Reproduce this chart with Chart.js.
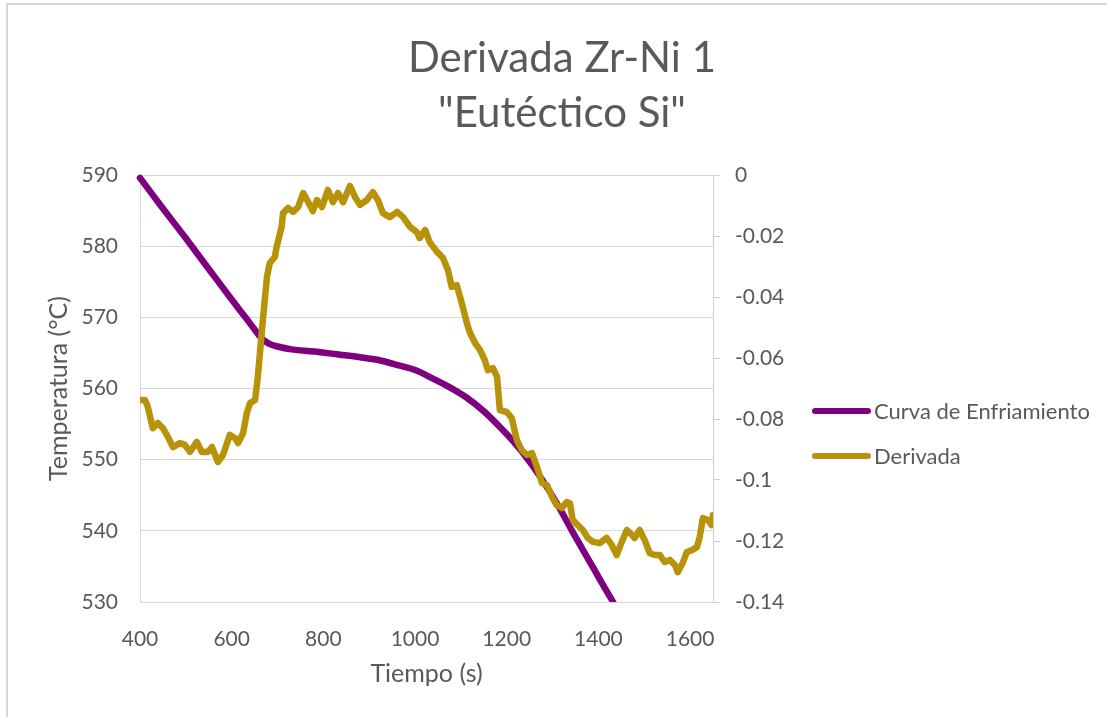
<!DOCTYPE html>
<html>
<head>
<meta charset="utf-8">
<title>Derivada Zr-Ni 1</title>
<script src="https://cdn.jsdelivr.net/npm/chart.js@4.4.1/dist/chart.umd.min.js"></script>
<style>
  html, body { margin: 0; padding: 0; background: #ffffff; }
  #wrap { position: relative; width: 1107px; height: 717px; overflow: hidden; background: #ffffff; }
  #frame { position: absolute; left: 6px; top: 3px; width: 1300px; height: 900px;
           border: 2px solid #d9d9d9; box-sizing: border-box; pointer-events: none; }
  canvas { position: absolute; left: 0; top: 0; }
</style>
</head>
<body>
<div id="wrap">
  <canvas id="grafico" width="1107" height="717"></canvas>
  <div id="frame"></div>
</div>
<script>
// Curva de enfriamiento: tiempo (s) y temperatura (°C)
const tiempoCurva = [400, 450, 500, 550, 600, 630, 650, 662, 672, 685, 700, 730, 780, 830, 880, 920,
  967, 1000, 1039, 1075, 1113, 1150, 1185, 1210, 1236, 1273, 1309, 1345, 1388, 1410, 1432, 1455];
const temperatura = [589.6, 585.3, 581.1, 576.8, 572.5, 570.0, 568.3, 567.3, 566.7, 566.2, 565.9, 565.5,
  565.2, 564.8, 564.4, 564.0, 563.2, 562.6, 561.4, 560.2, 558.7, 556.8, 554.6, 552.9, 550.9, 547.6,
  543.9, 539.7, 534.9, 532.4, 530.0, 527.2];

// Derivada de la temperatura respecto al tiempo
const tiempoDerivada = [400, 411, 417, 428, 439, 450, 461, 472, 487, 498, 509, 524, 535, 548, 557, 570,
  581, 596, 607, 614, 625, 633, 640, 651, 657, 668, 677, 683, 694, 698, 709, 712, 723, 734, 745, 756,
  767, 777, 786, 797, 810, 821, 832, 843, 858, 869, 880, 895, 908, 919, 930, 945, 961, 974, 989, 1004,
  1010, 1022, 1032, 1048, 1061, 1072, 1080, 1091, 1102, 1113, 1120, 1131, 1142, 1152, 1159, 1170, 1179,
  1185, 1200, 1211, 1222, 1233, 1244, 1255, 1266, 1277, 1288, 1299, 1309, 1320, 1331, 1338, 1344, 1355,
  1366, 1377, 1388, 1403, 1418, 1429, 1440, 1451, 1462, 1473, 1479, 1490, 1501, 1512, 1523, 1534, 1545,
  1556, 1567, 1573, 1584, 1593, 1604, 1615, 1621, 1628, 1639, 1647, 1650];
const derivada = [-0.0738, -0.0738, -0.0760, -0.0830, -0.0813, -0.0830, -0.0859, -0.0892, -0.0879,
  -0.0885, -0.0908, -0.0875, -0.0908, -0.0908, -0.0892, -0.0941, -0.0918, -0.0852, -0.0862, -0.0879,
  -0.0846, -0.0780, -0.0748, -0.0738, -0.0662, -0.0476, -0.0334, -0.0289, -0.0269, -0.0236, -0.0170,
  -0.0125, -0.0108, -0.0121, -0.0105, -0.0059, -0.0089, -0.0118, -0.0082, -0.0105, -0.0049, -0.0089,
  -0.0059, -0.0089, -0.0036, -0.0072, -0.0098, -0.0082, -0.0056, -0.0082, -0.0125, -0.0138, -0.0121,
  -0.0138, -0.0170, -0.0187, -0.0207, -0.0180, -0.0220, -0.0252, -0.0272, -0.0312, -0.0367, -0.0361,
  -0.0420, -0.0485, -0.0518, -0.0551, -0.0574, -0.0607, -0.0640, -0.0633, -0.0662, -0.0771, -0.0777,
  -0.0797, -0.0869, -0.0902, -0.0918, -0.0912, -0.0957, -0.1010, -0.1017, -0.1056, -0.1082, -0.1092,
  -0.1072, -0.1076, -0.1131, -0.1148, -0.1164, -0.1190, -0.1203, -0.1207, -0.1190, -0.1213, -0.1246,
  -0.1203, -0.1164, -0.1180, -0.1190, -0.1164, -0.1197, -0.1240, -0.1246, -0.1246, -0.1269, -0.1262,
  -0.1279, -0.1302, -0.1272, -0.1236, -0.1230, -0.1220, -0.1187, -0.1125, -0.1131, -0.1148, -0.1115];

// Textos del gráfico
const titulo = ['Derivada Zr-Ni 1', '"Eutéctico Si"'];
const nombresSeries = ['Curva de Enfriamiento', 'Derivada'];
const tituloEjeX = 'Tiempo (s)';
const tituloEjeY = 'Temperatura (°C)';

const colorTexto = '#595959';
const colorRejilla = '#d9d9d9';
const fuente = 'Lato, "Open Sans", sans-serif';

// Leyenda lateral dibujada junto al área del gráfico
const leyendaLateral = {
  id: 'leyendaLateral',
  afterDraw(chart, args, opts) {
    const ctx = chart.ctx;
    ctx.save();
    const orden = [0, 1];
    orden.forEach((idx, i) => {
      const ds = chart.data.datasets[idx];
      const y = opts.top + i * opts.gap;
      ctx.strokeStyle = ds.borderColor;
      ctx.lineWidth = opts.lineWidth;
      ctx.lineCap = 'round';
      ctx.beginPath();
      ctx.moveTo(opts.left, y);
      ctx.lineTo(opts.left + opts.lineLength, y);
      ctx.stroke();
      ctx.fillStyle = opts.color;
      ctx.font = opts.font;
      ctx.textAlign = 'left';
      ctx.textBaseline = 'middle';
      ctx.fillText(ds.label, opts.left + opts.lineLength + opts.textGap, y + 1);
    });
    ctx.restore();
  }
};

const fondoBlanco = {
  id: 'fondoBlanco',
  beforeDraw(chart) {
    const ctx = chart.ctx;
    ctx.save();
    ctx.fillStyle = '#ffffff';
    ctx.fillRect(0, 0, chart.width, chart.height);
    ctx.restore();
  }
};

const formatoNumero = v => {
  const r = +Number(v).toFixed(2);
  return String(r === 0 ? 0 : r);
};

new Chart(document.getElementById('grafico'), {
  type: 'line',
  data: {
    datasets: [
      {
        label: nombresSeries[0],
        data: tiempoCurva.map((t, i) => ({ x: t, y: temperatura[i] })),
        yAxisID: 'y',
        borderColor: '#7f007f',
        borderWidth: 6.5,
        pointRadius: 0,
        cubicInterpolationMode: 'monotone',
        borderCapStyle: 'round',
        borderJoinStyle: 'round',
        clip: { left: 8, top: 8, right: 8, bottom: 0 },
        order: 1
      },
      {
        label: nombresSeries[1],
        data: tiempoDerivada.map((t, i) => ({ x: t, y: derivada[i] })),
        yAxisID: 'y1',
        borderColor: '#b8930a',
        borderWidth: 6.5,
        pointRadius: 0,
        tension: 0,
        borderCapStyle: 'round',
        borderJoinStyle: 'round',
        order: 0
      }
    ]
  },
  options: {
    responsive: false,
    animation: false,
    devicePixelRatio: 1,
    layout: { padding: { left: 17, right: 0, top: 0, bottom: 0 } },
    plugins: {
      legend: { display: false },
      tooltip: { enabled: false },
      title: {
        display: true,
        text: titulo,
        color: colorTexto,
        font: { family: fuente, size: 42, weight: 'normal', lineHeight: 55 / 42 },
        padding: { top: 30.5, bottom: 34.5 }
      },
      leyendaLateral: {
        left: 815, top: 411, gap: 45, lineLength: 53, lineWidth: 6, textGap: 6,
        color: colorTexto, font: '22px ' + fuente
      }
    },
    scales: {
      x: {
        type: 'linear',
        min: 400,
        max: 1650,
        afterFit: s => { s.height = 115; },
        grid: { display: false },
        border: { display: true, color: colorRejilla, width: 1 },
        ticks: {
          stepSize: 200,
          includeBounds: false,
          color: colorTexto,
          padding: 17,
          maxRotation: 0,
          font: { family: fuente, size: 21 },
          callback: v => String(v)
        },
        title: {
          display: true,
          text: tituloEjeX,
          color: colorTexto,
          font: { family: fuente, size: 25 },
          padding: { top: 0, bottom: 28 }
        }
      },
      y: {
        type: 'linear',
        position: 'left',
        min: 530,
        max: 590,
        afterFit: s => { s.width = 123; },
        grid: { display: true, color: colorRejilla, lineWidth: 1, drawTicks: false },
        border: { display: true, color: colorRejilla, width: 1 },
        ticks: {
          stepSize: 10,
          color: colorTexto,
          padding: 22,
          font: { family: fuente, size: 21 },
          callback: formatoNumero
        },
        title: {
          display: true,
          text: tituloEjeY,
          color: colorTexto,
          font: { family: fuente, size: 25 },
          padding: { top: 27, bottom: 0 }
        }
      },
      y1: {
        type: 'linear',
        position: 'right',
        min: -0.14,
        max: 0,
        afterFit: s => { s.width = 394; },
        grid: { display: true, drawOnChartArea: false, drawTicks: true, tickLength: 7, color: '#cfcfcf' },
        border: { display: true, color: '#cfcfcf', width: 1 },
        ticks: {
          stepSize: 0.02,
          color: colorTexto,
          padding: 15,
          font: { family: fuente, size: 21 },
          callback: formatoNumero
        }
      }
    }
  },
  plugins: [fondoBlanco, leyendaLateral]
});
</script>
</body>
</html>
